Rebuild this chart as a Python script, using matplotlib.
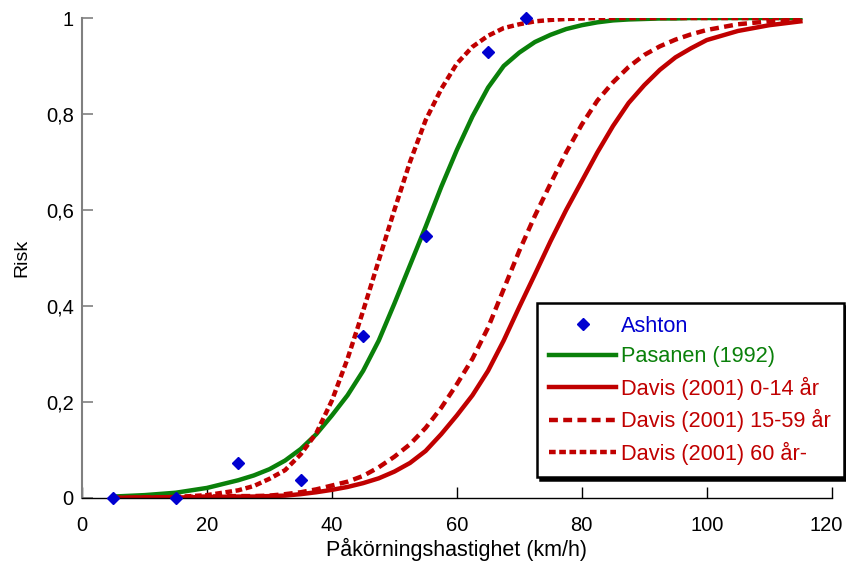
import numpy as np
import matplotlib
matplotlib.use('Agg')
import matplotlib.pyplot as plt
import matplotlib.transforms as mtransforms
from matplotlib.lines import Line2D

plt.rcParams['font.family'] = ['Liberation Sans', 'DejaVu Sans']

# hastighet (km/h) och risk avlästa ur originalfiguren
hastighet = [5, 10, 15, 20, 25, 27.5, 30, 32.5, 35, 37.5, 40, 42.5, 45, 47.5, 50,
             52.5, 55, 57.5, 60, 62.5, 65, 67.5, 70, 72.5, 75, 77.5, 80, 82.5, 85,
             87.5, 90, 92.5, 95, 97.5, 100, 105, 110, 115]
pasanen = [0.003, 0.006, 0.011, 0.021, 0.037, 0.047, 0.06, 0.078, 0.102, 0.133, 0.172,
           0.214, 0.265, 0.328, 0.405, 0.485, 0.565, 0.648, 0.725, 0.795, 0.855, 0.90,
           0.928, 0.95, 0.965, 0.977, 0.985, 0.991, 0.995, 0.997, 0.998, 0.999, 0.999,
           1.0, 1.0, 1.0, 1.0, 1.0]
davis_0_14 = [0.0, 0.001, 0.001, 0.002, 0.003, 0.003, 0.004, 0.005, 0.008, 0.012, 0.017,
              0.023, 0.031, 0.041, 0.055, 0.073, 0.098, 0.133, 0.172, 0.214, 0.265, 0.328,
              0.398, 0.466, 0.535, 0.60, 0.66, 0.72, 0.775, 0.823, 0.86, 0.892, 0.918,
              0.937, 0.954, 0.973, 0.985, 0.993]
davis_15_59 = [0.0, 0.001, 0.002, 0.003, 0.004, 0.004, 0.005, 0.008, 0.012, 0.018, 0.026,
               0.034, 0.046, 0.064, 0.086, 0.112, 0.146, 0.188, 0.237, 0.29, 0.355, 0.435,
               0.515, 0.588, 0.655, 0.72, 0.778, 0.828, 0.866, 0.898, 0.923, 0.941, 0.955,
               0.966, 0.975, 0.987, 0.993, 0.996]
davis_60 = [0.0, 0.001, 0.002, 0.006, 0.016, 0.025, 0.04, 0.058, 0.091, 0.135, 0.203,
            0.29, 0.39, 0.495, 0.60, 0.70, 0.787, 0.852, 0.905, 0.94, 0.963, 0.979, 0.987,
            0.993, 0.996, 0.998, 0.999, 1.0, 1.0, 1.0, 1.0, 1.0, 1.0, 1.0, 1.0, 1.0,
            1.0, 1.0]

ashton_x = [5, 15, 25, 35, 45, 55, 65, 71]
ashton_y = [0.0, 0.0, 0.073, 0.038, 0.337, 0.546, 0.93, 1.0]

xticks = [0, 20, 40, 60, 80, 100, 120]
yticks = [0, 0.2, 0.4, 0.6, 0.8, 1]
ytick_labels = ['0', '0,2', '0,4', '0,6', '0,8', '1']

gron = '#0a800a'
rod = '#c00000'
bla = '#0000d0'
streck_15_59 = (2.0, 1.2)
streck_60 = (1.5, 0.8)

fig = plt.figure(figsize=(8.46, 5.61), dpi=100)
ax = fig.add_axes([0.097, 0.1123, 0.886, 0.8556])

ax.plot(hastighet, pasanen, color=gron, lw=3.2)
ax.plot(hastighet, davis_0_14, color=rod, lw=3.2)
ax.plot(hastighet, davis_15_59, color=rod, lw=3.2, dashes=streck_15_59)
ax.plot(hastighet, davis_60, color=rod, lw=3.2, dashes=streck_60)
ax.plot(ashton_x, ashton_y, ls='none', marker='D', ms=6.3, color=bla, zorder=5,
        clip_on=False)

ax.set_xlim(0, 120)
ax.set_ylim(0, 1)
ax.set_xticks(xticks)
ax.set_yticks(yticks)
ax.set_yticklabels(ytick_labels)

for s in ['top', 'right']:
    ax.spines[s].set_visible(False)
ax.spines['left'].set_color('#808080')
ax.spines['left'].set_linewidth(1.5)
ax.spines['bottom'].set_color('black')
ax.spines['bottom'].set_linewidth(1.0)

ax.tick_params(axis='y', direction='in', length=8, width=1.2, color='#808080',
               labelsize=14.5, pad=6)
ax.tick_params(axis='x', direction='in', length=8, width=1, color='black',
               labelsize=14.5, pad=13)

# sista x-etiketten flyttas lite åt vänster så den inte klipps
sista = ax.get_xticklabels()[-1]
sista.set_transform(sista.get_transform() +
                    mtransforms.ScaledTranslation(-4 / 72, 0, fig.dpi_scale_trans))

ax.set_ylabel('Risk', fontsize=14, labelpad=11)
ax.set_xlabel('Påkörningshastighet (km/h)', fontsize=15.5, labelpad=2)

handles = [
    Line2D([], [], ls='none', marker='D', ms=6, color=bla),
    Line2D([], [], color=gron, lw=3.2),
    Line2D([], [], color=rod, lw=3.2),
    Line2D([], [], color=rod, lw=3.2, dashes=streck_15_59),
    Line2D([], [], color=rod, lw=3.2, dashes=streck_60),
]
labels = ['Ashton', 'Pasanen (1992)', 'Davis (2001) 0-14 år',
          'Davis (2001) 15-59 år', 'Davis (2001) 60 år-']
leg = ax.legend(handles, labels, loc='upper left', bbox_to_anchor=(0.6067, 0.406),
                borderaxespad=0, fontsize=15.7, handlelength=3.05, handletextpad=0.25,
                labelspacing=0.43, borderpad=0.58, fancybox=False,
                edgecolor='black', framealpha=1,
                shadow={'facecolor': 'black', 'edgecolor': 'black', 'alpha': 1})
leg.get_frame().set_linewidth(1.8)
textfarger = [bla, gron, rod, rod, rod]
for t, c in zip(leg.get_texts(), textfarger):
    t.set_color(c)

fig.savefig('out.png', dpi=100)
